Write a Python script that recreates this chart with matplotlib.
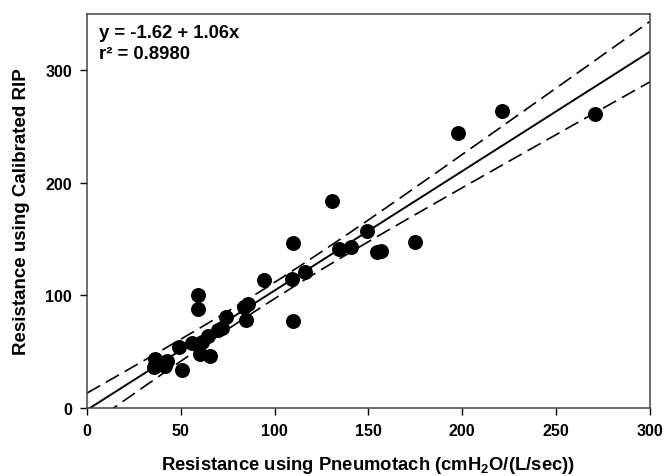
import matplotlib
matplotlib.use("Agg")
import matplotlib.pyplot as plt
import numpy as np

# points (pneumotach vs calibrated RIP)
pneumotach = [270.6, 221, 198, 130.5, 149, 134.5, 140.5, 154.5, 156.6, 175,
              116, 109.7, 94.3, 109.3, 110, 84.5, 83.5, 86, 74, 70,
              72, 64.6, 61, 56, 49, 60, 65.5, 59, 59, 36,
              42.5, 35.5, 41.5, 50.6]
rip = [261, 263.5, 244, 184, 157, 141, 143, 138.5, 139.5, 147,
       120.7, 146.4, 113.6, 114.5, 77, 78.5, 89.5, 92.5, 80.5, 69,
       71, 64, 58.5, 57.5, 54, 48, 46, 100, 87.5, 43.5,
       42, 36.4, 37.5, 34]

intercept = -1.62
slope = 1.06
r2_text = "0.8980"

x_ticks = [0, 50, 100, 150, 200, 250, 300]
y_ticks = [0, 100, 200, 300]

plt.rcParams['font.family'] = ['Liberation Sans', 'DejaVu Sans']
plt.rcParams['font.weight'] = 'bold'
plt.rcParams['mathtext.fontset'] = 'custom'
plt.rcParams['mathtext.rm'] = 'Liberation Sans:bold'
plt.rcParams['mathtext.it'] = 'Liberation Sans:bold'
plt.rcParams['mathtext.bf'] = 'Liberation Sans:bold'


def conf_band(x, y, xs):
	# 95% confidence band around the stated regression line
	x = np.asarray(x)
	y = np.asarray(y)
	n = len(x)
	resid = y - (intercept + slope * x)
	s = np.sqrt(np.sum(resid ** 2) / (n - 2))
	sxx = np.sum((x - x.mean()) ** 2)
	half = 2.03 * s * np.sqrt(1.0 / n + (xs - x.mean()) ** 2 / sxx)
	fit = intercept + slope * xs
	return fit, fit - half, fit + half


def plot():
	fig = plt.figure(figsize=(6.65, 4.77), dpi=100)
	ax = fig.add_axes([0.131, 0.1426, 0.846, 0.826])

	xs = np.linspace(0, 300, 300)
	fit, lo, hi = conf_band(pneumotach, rip, xs)
	ax.plot(xs, fit, '-', color='black', lw=1.4)
	ax.plot(xs, lo, color='black', lw=1.2, dashes=(9, 4))
	ax.plot(xs, hi, color='black', lw=1.2, dashes=(9, 4))

	ax.scatter(pneumotach, rip, s=95, color='black', zorder=3)

	ax.set_xlim(0, 300)
	ax.set_ylim(0, 350)
	ax.set_xticks(x_ticks)
	ax.set_yticks(y_ticks)
	ax.tick_params(direction='out', length=5, width=1, labelsize=11.5, pad=6)
	for sp in ax.spines.values():
		sp.set_color('#444444')
		sp.set_linewidth(1.1)

	ax.set_xlabel("Resistance using Pneumotach (cmH$_2$O/(L/sec))", fontsize=13.3, fontweight='bold', labelpad=11)
	ax.set_ylabel("Resistance using Calibrated RIP", fontsize=13.5, fontweight='bold', labelpad=11)

	ax.text(0.022, 0.975, "y = %.2f + %.2fx" % (intercept, slope), transform=ax.transAxes,
		fontsize=13.3, fontweight='bold', va='top', ha='left')
	ax.text(0.022, 0.922, "r\u00b2 = " + r2_text, transform=ax.transAxes,
		fontsize=13.3, fontweight='bold', va='top', ha='left')

	fig.savefig("out.png", dpi=100)


def main():
	plot()
if __name__ == "__main__":
	main()
